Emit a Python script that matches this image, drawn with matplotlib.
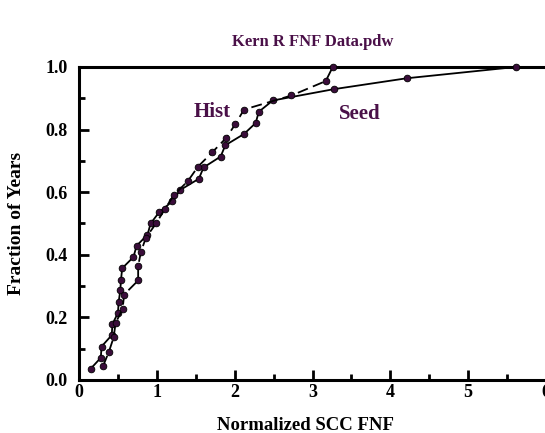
#! /usr/bin/env python
# Kern R FNF Data - cumulative fraction of years vs normalized SCC FNF

import matplotlib
matplotlib.use('Agg')
import matplotlib.pyplot as plt
from matplotlib.ticker import MultipleLocator

# Seed series (solid)
seed_x = [0.15, 0.28, 0.29, 0.42, 0.43, 0.50, 0.51, 0.53, 0.54, 0.555,
          0.70, 0.74, 0.88, 0.92, 1.03, 1.20, 1.30, 1.54, 1.60, 1.82,
          1.88, 2.12, 2.27, 2.31, 2.49, 3.27, 4.21, 5.61]
seed_y = [0.036, 0.071, 0.107, 0.143, 0.179, 0.214, 0.250, 0.286, 0.321, 0.357,
          0.393, 0.429, 0.464, 0.500, 0.536, 0.571, 0.607, 0.643, 0.679, 0.714,
          0.750, 0.786, 0.821, 0.857, 0.893, 0.929, 0.964, 1.000]

# Hist series (dashed)
hist_x = [0.31, 0.385, 0.445, 0.47, 0.56, 0.58, 0.76, 0.76, 0.795, 0.86,
          0.99, 1.10, 1.22, 1.40, 1.53, 1.71, 1.89, 2.01, 2.12, 2.73,
          3.17, 3.26]
hist_y = [0.045, 0.091, 0.136, 0.182, 0.227, 0.273, 0.318, 0.364, 0.409, 0.455,
          0.500, 0.545, 0.591, 0.636, 0.682, 0.727, 0.773, 0.818, 0.864, 0.909,
          0.955, 1.000]

PURPLE = '#4a1048'
MARK = '#3a0d3a'

plt.rcParams['font.family'] = ['Liberation Serif', 'DejaVu Serif']
plt.rcParams['font.weight'] = 'bold'

fig = plt.figure(figsize=(5.45, 4.33), dpi=100)
ax = fig.add_axes([79/545, 53/433, 467/545, 313/433])

ax.plot(seed_x, seed_y, color='black', lw=1.3, marker='o', ms=4.8,
        mfc=MARK, mec='black', mew=0.6, clip_on=False, zorder=3)
ax.plot(hist_x, hist_y, color='black', lw=1.3, ls=(0, (6, 3)), marker='o', ms=4.8,
        mfc=MARK, mec='black', mew=0.6, clip_on=False, zorder=3)

ax.text(1.71, 0.855, 'Hist', color=PURPLE, fontsize=15, fontweight='bold',
        ha='center', va='center')
ax.text(3.61, 0.85, 'Seed', color=PURPLE, fontsize=15, fontweight='bold',
        ha='center', va='center')

ax.set_xlim(0, 6)
ax.set_ylim(0, 1)
ax.xaxis.set_major_locator(MultipleLocator(1))
ax.xaxis.set_minor_locator(MultipleLocator(0.5))
ax.yaxis.set_major_locator(MultipleLocator(0.2))
ax.yaxis.set_minor_locator(MultipleLocator(0.1))
ax.xaxis.set_major_formatter(plt.FuncFormatter(lambda v, p: '%d' % v))
ax.yaxis.set_major_formatter(plt.FuncFormatter(lambda v, p: '%.1f' % v))

ax.tick_params(which='both', direction='in', top=False, right=False,
               width=2, labelsize=13)
ax.tick_params(axis='y', pad=8)
ax.tick_params(axis='x', pad=3)
ax.tick_params(which='major', length=7)
ax.tick_params(which='minor', length=4)
for lab in ax.get_xticklabels() + ax.get_yticklabels():
    lab.set_fontweight('bold')

for side in ['left', 'bottom', 'top']:
    ax.spines[side].set_linewidth(2.2)
ax.spines['right'].set_visible(False)

ax.set_xlabel('Normalized SCC FNF', fontsize=13.5, fontweight='bold')
ax.xaxis.set_label_coords(0.484, -0.118)
ax.set_ylabel('Fraction of Years', fontsize=14, fontweight='bold')
ax.yaxis.set_label_coords(-0.116, 0.5)
fig.text(313/545, 1 - 42/433, 'Kern R FNF Data.pdw', color=PURPLE, fontsize=12,
         fontweight='bold', ha='center', va='center')

fig.savefig('out.png', dpi=100)
